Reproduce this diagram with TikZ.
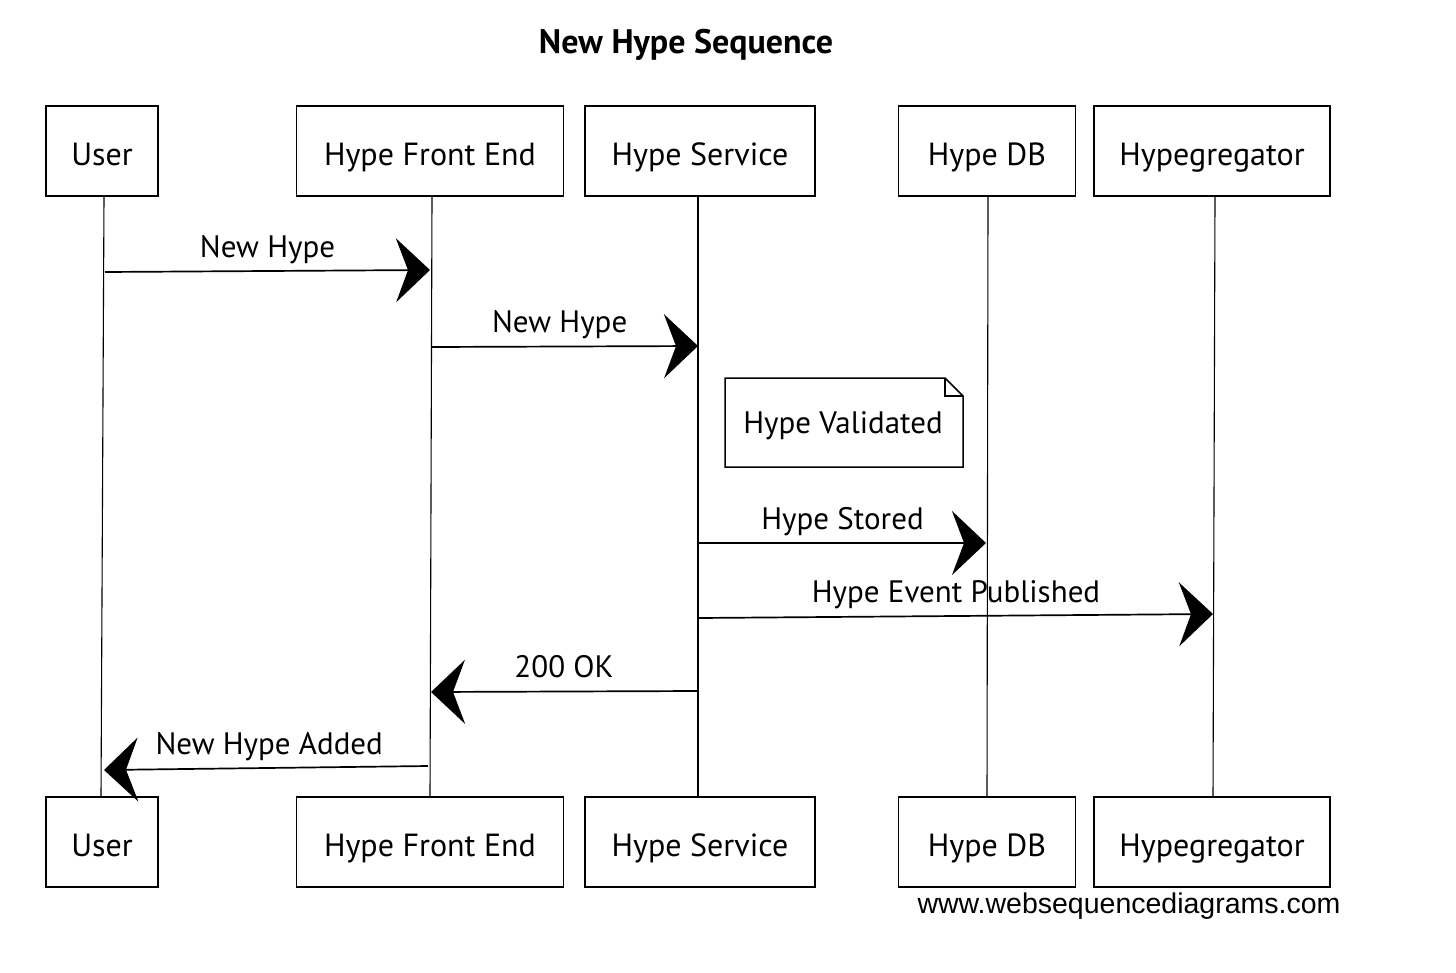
\documentclass[tikz,border=0pt]{standalone}
\usepackage{fontspec}
\setmainfont{PT Sans}
\newfontfamily\wsdfont{Liberation Sans}
\usetikzlibrary{arrows.meta}
\begin{document}
\begin{tikzpicture}[x=1pt,y=-1pt,
  actor/.style={draw=black,line width=1.5pt,fill=white,minimum height=90pt,inner sep=0pt,font=\fontsize{32}{36}\selectfont,text height=38pt,text depth=9pt},
  life/.style={draw=black,line width=1.1pt},
  msg/.style={draw=black,line width=1.7pt,-{Stealth[length=34pt,width=64pt,inset=12pt]}},
  lbl/.style={font=\fontsize{31}{34}\selectfont,inner sep=0pt,text height=22pt,text depth=7pt},
  notebox/.style={draw=black,line width=1.5pt}]
\useasboundingbox (0,0) rectangle (1456,972);
\node[font=\fontsize{34}{38}\selectfont\bfseries] (title) at (686,45) {New Hype Sequence};
% top actors
\node[actor,minimum width=112pt] (u1) at (102,151) {User};
\node[actor,minimum width=267pt] (f1) at (430,151) {Hype Front End};
\node[actor,minimum width=230pt] (s1) at (700,151) {Hype Service};
\node[actor,minimum width=177pt] (d1) at (987,151) {Hype DB};
\node[actor,minimum width=236pt] (h1) at (1212,151) {Hypegregator};
% bottom actors
\node[actor,minimum width=112pt] (u2) at (102,842) {User};
\node[actor,minimum width=267pt] (f2) at (430,842) {Hype Front End};
\node[actor,minimum width=230pt] (s2) at (700,842) {Hype Service};
\node[actor,minimum width=177pt] (d2) at (987,842) {Hype DB};
\node[actor,minimum width=236pt] (h2) at (1212,842) {Hypegregator};
% lifelines
\coordinate (uA) at (104,197); \coordinate (uB) at (101,797);
\coordinate (fA) at (432,197); \coordinate (fB) at (430,797);
\coordinate (sA) at (698,197); \coordinate (sB) at (698,797);
\coordinate (dA) at (988,197); \coordinate (dB) at (987,797);
\coordinate (hA) at (1215,197); \coordinate (hB) at (1213,797);
\draw[life] (uA) -- (uB);
\draw[life] (fA) -- (fB);
\draw[life] (sA) -- (sB);
\draw[life] (dA) -- (dB);
\draw[life] (hA) -- (hB);
% note
\coordinate (n1) at (725,378);
\coordinate (n2) at (945,378);
\coordinate (n3) at (963,396);
\coordinate (n4) at (963,467);
\coordinate (n5) at (725,467);
\filldraw[notebox,fill=white] (n1) -- (n2) -- (n3) -- (n4) -- (n5) -- cycle;
\draw[notebox] (n2) -- (945,396) -- (n3);
\node[lbl] (note) at (843,426) {Hype Validated};
% message endpoints
\coordinate (m1a) at (105,272); \coordinate (m1b) at (430,270);
\coordinate (m2a) at (432,347); \coordinate (m2b) at (698,346);
\coordinate (m3a) at (699,543); \coordinate (m3b) at (986,543);
\coordinate (m4a) at (699,618); \coordinate (m4b) at (1213,614);
\coordinate (m5a) at (697,691); \coordinate (m5b) at (431,692);
\coordinate (m6a) at (428,766); \coordinate (m6b) at (104,770);
\draw[msg] (m1a) -- node[lbl,above=6pt,pos=0.5] (l1) {New Hype} (m1b);
\draw[msg] (m2a) -- node[lbl,above=6pt,pos=0.48] (l2) {New Hype} (m2b);
\draw[msg] (m3a) -- node[lbl,above=6pt,pos=0.5] (l3) {Hype Stored} (m3b);
\draw[msg] (m4a) -- node[lbl,above=6pt,pos=0.5] (l4) {Hype Event Published} (m4b);
\draw[msg] (m5a) -- node[lbl,above=6pt,pos=0.5] (l5) {200 OK} (m5b);
\draw[msg] (m6a) -- node[lbl,above=6pt,pos=0.49] (l6) {New Hype Added} (m6b);
\node[font=\wsdfont\fontsize{28.5}{32}\selectfont,inner sep=0pt] (wm) at (1129,906) {www.websequencediagrams.com};
\end{tikzpicture}
\end{document}
